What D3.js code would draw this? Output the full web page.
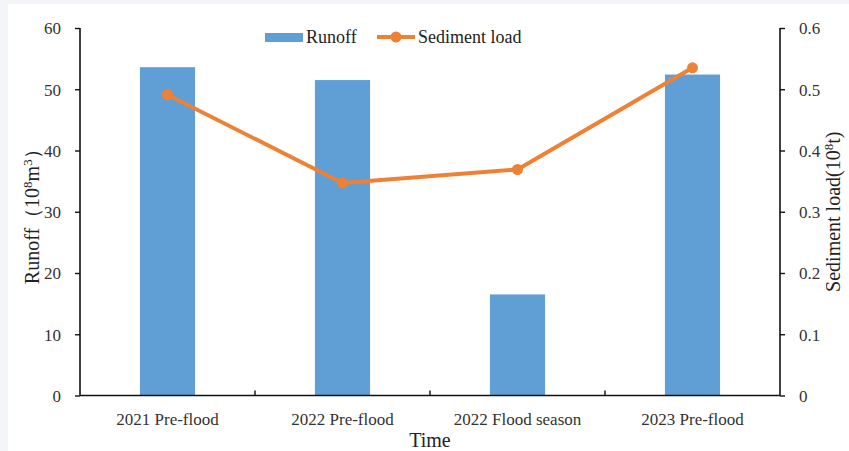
<!DOCTYPE html>
<html>
<head>
<meta charset="utf-8">
<script src="https://cdn.jsdelivr.net/npm/d3@7/dist/d3.min.js"></script>
<style>
  html, body { margin: 0; padding: 0; background: #f3f5f9; }
  svg { display: block; }
</style>
</head>
<body>
<svg id="chart" width="849" height="451"></svg>
<script>
// Runoff and sediment load per survey period
const categories = ["2021 Pre-flood", "2022 Pre-flood", "2022 Flood season", "2023 Pre-flood"];
const runoff = [53.6, 51.5, 16.5, 52.4];          // 10^8 m^3
const sedimentLoad = [0.491, 0.347, 0.369, 0.535]; // 10^8 t
const leftTicks = [0, 10, 20, 30, 40, 50, 60];
const rightTicks = [0, 0.1, 0.2, 0.3, 0.4, 0.5, 0.6];

const FONT = "Liberation Serif, Times New Roman, Tinos, DejaVu Serif, serif";
const W = 849, H = 451;
const margin = { left: 80, right: 69, top: 28, bottom: 55.5 };
const svg = d3.select("#chart");

// white panel
svg.append("rect").attr("x", 8).attr("y", 4).attr("width", W - 8).attr("height", H - 4).attr("fill", "#fff");

const x = d3.scaleBand().domain(categories).range([margin.left, W - margin.right]);
const yL = d3.scaleLinear().domain([0, 60]).range([H - margin.bottom, margin.top]);
const yR = d3.scaleLinear().domain([0, 0.6]).range([H - margin.bottom, margin.top]);

const barW = x.bandwidth() * 0.315;

// bars
svg.append("g").selectAll("rect").data(categories).join("rect")
  .attr("x", (d) => x(d) + x.bandwidth() / 2 - barW / 2)
  .attr("y", (d, i) => yL(runoff[i]))
  .attr("width", barW)
  .attr("height", (d, i) => yL(0) - yL(runoff[i]))
  .attr("fill", "#5f9fd6");

// axes
const fmtL = d3.format("d");
const fmtR = (v) => v === 0 ? "0" : d3.format(".1f")(v);

const gL = svg.append("g").attr("transform", `translate(${margin.left},0)`)
  .call(d3.axisLeft(yL).tickValues(leftTicks).tickFormat(fmtL).tickSize(5).tickSizeOuter(0).tickPadding(14));
const gR = svg.append("g").attr("transform", `translate(${W - margin.right},0)`)
  .call(d3.axisRight(yR).tickValues(rightTicks).tickFormat(fmtR).tickSize(5).tickSizeOuter(0).tickPadding(14));
const gB = svg.append("g").attr("transform", `translate(0,${H - margin.bottom})`)
  .call(d3.axisBottom(x).tickSize(0).tickPadding(17));

[gL, gR, gB].forEach((g) => {
  g.attr("font-family", FONT).attr("font-size", 17);
  g.select(".domain").attr("stroke", "#111").attr("stroke-width", 1.6);
  g.selectAll(".tick line").attr("stroke", "#111").attr("stroke-width", 1.4);
  g.selectAll("text").attr("fill", "#333");
});
gL.select(".domain").attr("d", `M0,${yL(60)}V${yL(0)}`);
gR.select(".domain").attr("d", `M0,${yR(0.6)}V${yR(0)}`);
gB.select(".domain").attr("d", `M${margin.left},0H${W - margin.right}`);
gL.selectAll(".tick text").attr("dy", "0.35em");
gR.selectAll(".tick text").attr("dy", "0.35em").attr("x", 19);

// category boundary ticks (inside)
gB.selectAll(".sep").data(categories.slice(1)).join("line")
  .attr("class", "sep")
  .attr("x1", (d) => x(d)).attr("x2", (d) => x(d))
  .attr("y1", 0).attr("y2", -5)
  .attr("stroke", "#111").attr("stroke-width", 1.4);

// sediment line
const line = d3.line()
  .x((d, i) => x(categories[i]) + x.bandwidth() / 2)
  .y((d) => yR(d));
svg.append("path").datum(sedimentLoad).attr("d", line)
  .attr("fill", "none").attr("stroke", "#ee8133").attr("stroke-width", 4).attr("stroke-linejoin", "round");
svg.append("g").selectAll("circle").data(sedimentLoad).join("circle")
  .attr("cx", (d, i) => x(categories[i]) + x.bandwidth() / 2)
  .attr("cy", (d) => yR(d))
  .attr("r", 5.5).attr("fill", "#ee8133");

// axis titles
const titles = svg.append("g").attr("font-family", FONT).attr("fill", "#222");
titles.append("text").attr("transform", `translate(39,${(yL(0) + yL(60)) / 2}) rotate(-90)`)
  .attr("text-anchor", "middle").attr("font-size", 20)
  .html('Runoff（10<tspan dy="-7" font-size="13">8</tspan><tspan dy="7">m</tspan><tspan dy="-7" font-size="13">3</tspan><tspan dy="7">）</tspan>');
titles.append("text").attr("transform", `translate(840,${(yR(0) + yR(0.6)) / 2}) rotate(-90)`)
  .attr("text-anchor", "middle").attr("font-size", 20)
  .html('Sediment  load(10<tspan dy="-7" font-size="13">8</tspan><tspan dy="7">t)</tspan>');
titles.append("text").attr("x", (margin.left + W - margin.right) / 2).attr("y", 447)
  .attr("text-anchor", "middle").attr("font-size", 20).text("Time");

// legend
const lg = svg.append("g").attr("transform", "translate(265,37)").attr("font-family", FONT).attr("fill", "#222");
lg.append("rect").attr("x", 0).attr("y", -4).attr("width", 38).attr("height", 9).attr("fill", "#5f9fd6");
lg.append("text").attr("x", 41).attr("y", 0).attr("dy", "0.35em").attr("font-size", 18).text("Runoff");
lg.append("line").attr("x1", 112).attr("x2", 150).attr("y1", 0).attr("y2", 0)
  .attr("stroke", "#ee8133").attr("stroke-width", 4);
lg.append("circle").attr("cx", 131).attr("cy", 0).attr("r", 5.5).attr("fill", "#ee8133");
lg.append("text").attr("x", 153).attr("y", 0).attr("dy", "0.35em").attr("font-size", 18).text("Sediment load");
</script>
</body>
</html>
